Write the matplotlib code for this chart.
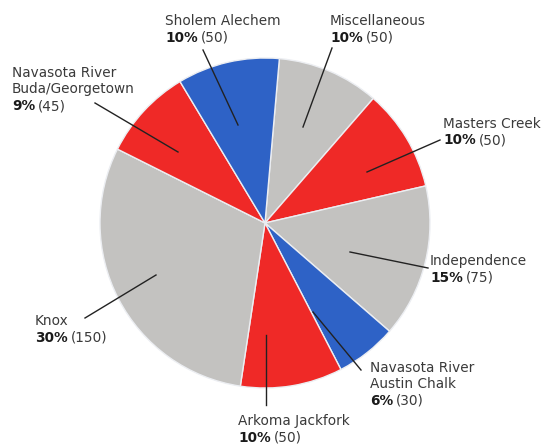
import matplotlib
matplotlib.use('Agg')
import matplotlib.pyplot as plt

# Data (clockwise from the top)
names = ['Miscellaneous', 'Masters Creek', 'Independence',
         'Navasota River\nAustin Chalk', 'Arkoma Jackfork', 'Knox',
         'Navasota River\nBuda/Georgetown', 'Sholem Alechem']
counts = [50, 50, 75, 30, 50, 150, 45, 50]
percents = [10, 10, 15, 6, 10, 30, 9, 10]
kinds = ['gray', 'red', 'gray', 'blue', 'red', 'gray', 'red', 'blue']

W, H = 554, 446
colors = {'gray': '#c3c2c0', 'red': '#ef2927', 'blue': '#2e62c6'}

# Layout (pixel coords, y measured from the top)
center = (265, 223)
radius = 165
label_pos = [(330, 14), (443, 117), (430, 254), (370, 361), (238, 414),
             (35, 314), (12, 66), (165, 14)]
line_out = [(332, 48), (440, 140), (428, 268), (361, 370), (266, 405),
            (85, 318), (95, 103), (203, 50)]
line_in = [(303, 127), (367, 172), (350, 252), (313, 312), (266, 335),
           (156, 275), (178, 152), (238, 125)]

fig = plt.figure(figsize=(W / 100, H / 100), dpi=100)
ax = fig.add_axes([0, 0, 1, 1])


def fy(y):
    return H - y


ax.pie(counts, colors=[colors[k] for k in kinds], startangle=85,
       counterclock=False, center=(center[0], fy(center[1])), radius=radius,
       wedgeprops=dict(edgecolor='#eceef2', linewidth=1.0), frame=True)
ax.set_xlim(0, W)
ax.set_ylim(0, H)
ax.axis('off')

# leader lines
for (x0, y0), (x1, y1) in zip(line_in, line_out):
    ax.plot([x0, x1], [fy(y0), fy(y1)], color='#222222', lw=1.0)

fs = 9.8
pitch = 16.5
txt_color = '#3a3a3a'
bold_parts = []
for name, pct, cnt, (lx, ly) in zip(names, percents, counts, label_pos):
    lines = name.split('\n')
    for i, ln in enumerate(lines):
        ax.text(lx, fy(ly + i * pitch), ln, fontsize=fs, color=txt_color,
                ha='left', va='top')
    yb = fy(ly + len(lines) * pitch)
    tb = ax.text(lx, yb, f'{pct}%', fontsize=fs, fontweight='bold',
                 color='#1a1a1a', ha='left', va='top')
    bold_parts.append((tb, cnt, yb))

# the count in brackets follows the bold percentage
fig.canvas.draw()
renderer = fig.canvas.get_renderer()
for tb, cnt, yb in bold_parts:
    bb = tb.get_window_extent(renderer)
    ax.text(bb.x1 + 3, yb, f'({cnt})', fontsize=fs, color=txt_color,
            ha='left', va='top')

fig.savefig('out.png', dpi=100)
